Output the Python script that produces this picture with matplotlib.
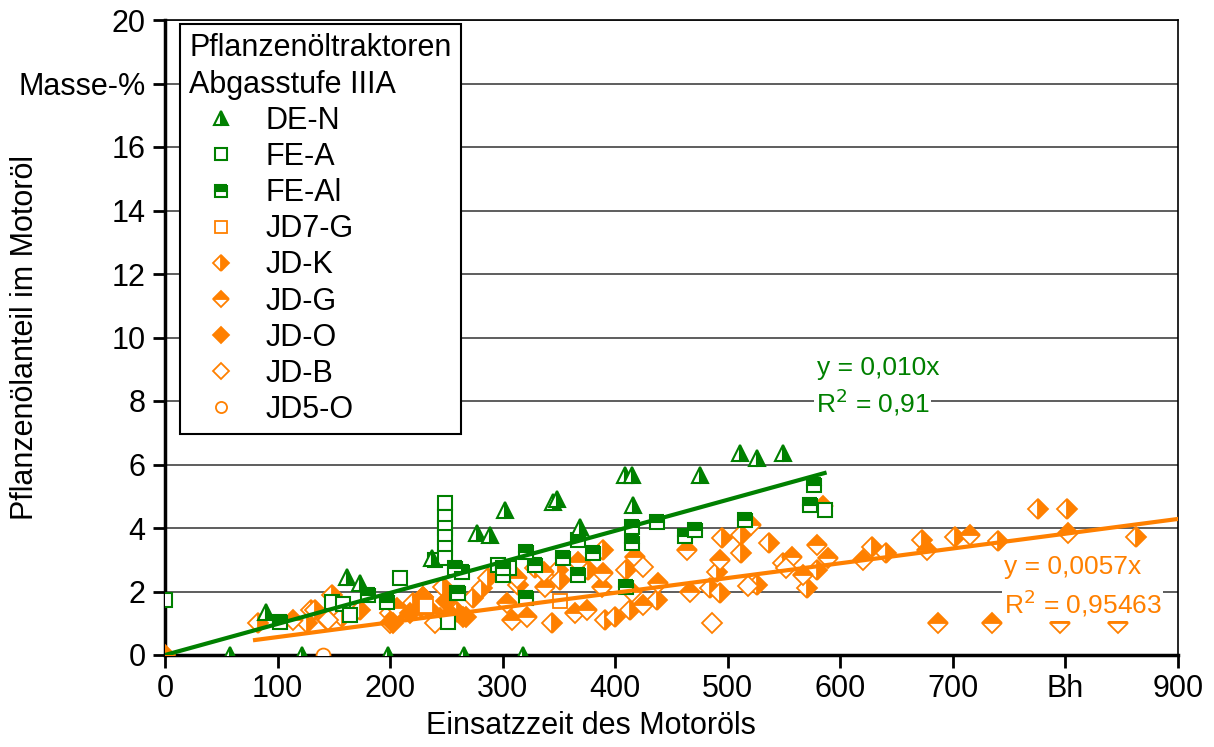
import matplotlib
matplotlib.use('Agg')
import matplotlib.pyplot as plt
import numpy as np

plt.rcParams['font.family'] = ['Liberation Sans', 'DejaVu Sans']

GREEN = '#008000'
ORANGE = '#ff8000'

# Pflanzenoelanteil (Masse-%) ueber Einsatzzeit (Bh)
de_n_x = [58, 90, 122, 162, 173, 198, 237, 266, 277, 289, 302, 318, 345, 348, 369, 409, 415, 416, 475, 511, 526, 549]
de_n_y = [0, 1.35, 0, 2.46, 2.27, 0, 3.05, 0, 3.84, 3.78, 4.57, 0, 4.82, 4.9, 4.03, 5.67, 5.67, 4.72, 5.67, 6.36, 6.2, 6.36]

fe_a_x = [0, 148, 158, 164, 209, 240, 249, 249, 249, 249, 249, 249, 251, 259, 296, 300, 306, 586]
fe_a_y = [1.73, 1.67, 1.6, 1.26, 2.43, 3.0, 4.8, 4.35, 4.0, 3.72, 3.37, 3.06, 1.04, 1.95, 2.83, 2.52, 2.74, 4.57]

fe_al_x = [102, 180, 197, 258, 260, 264, 300, 321, 321, 329, 354, 367, 367, 380, 410, 415, 415, 437, 462, 471, 515, 573, 577]
fe_al_y = [1.05, 1.89, 1.67, 2.75, 1.95, 2.6, 2.75, 3.24, 1.8, 2.83, 3.06, 3.62, 2.52, 3.21, 2.14, 4.03, 3.53, 4.19, 3.75, 3.94, 4.25, 4.72, 5.35]

jd7_g_x = [232, 351]
jd7_g_y = [1.55, 1.7]

jd_k_x = [83, 126, 130, 133, 144, 148, 155, 157, 173, 200, 204, 220, 229, 247, 259, 274, 282, 287, 314, 329,
          344, 349, 351, 376, 389, 391, 400, 410, 413, 437, 484, 490, 493, 495, 512, 512, 526, 537, 549, 570,
          579, 628, 641, 673, 702, 740, 776, 801, 863]
jd_k_y = [1.0, 1.0, 1.42, 1.42, 1.1, 1.89, 1.4, 1.2, 1.42, 1.32, 1.2, 1.64, 1.83, 2.14, 1.35, 1.8, 2.1, 2.43, 2.2, 2.74,
          1.0, 2.68, 2.36, 2.68, 3.3, 1.1, 1.2, 2.68, 1.42, 1.73, 2.1, 2.6, 1.95, 3.68, 3.2, 3.78, 2.2, 3.53, 2.9, 2.1,
          2.68, 3.4, 3.2, 3.62, 3.72, 3.6, 4.6, 4.6, 3.72]

jd_g_x = [114, 200, 206, 244, 304, 308, 313, 322, 337, 338, 364, 367, 375, 388, 389, 415, 418, 425, 438, 464,
          466, 493, 521, 557, 567, 579, 585, 589, 620, 677, 687, 715, 735, 795, 802, 847]
jd_g_y = [1.1, 1.0, 1.48, 1.17, 1.64, 1.1, 2.43, 1.2, 2.6, 2.14, 1.32, 2.93, 1.42, 2.14, 2.58, 1.98, 3.09, 1.57, 2.27, 3.3,
          1.98, 3.0, 4.1, 3.1, 2.52, 3.47, 4.7, 3.06, 3.0, 3.3, 1.0, 3.78, 1.0, 1.0, 3.84, 1.0]

jd_o_x = [0, 203, 218, 227, 229, 235, 250, 253, 265, 267]
jd_o_y = [0, 1.0, 1.32, 1.5, 1.83, 1.42, 1.7, 1.3, 1.2, 1.2]

jd_b_x = [145, 240, 425, 486, 518, 552]
jd_b_y = [1.1, 1.0, 2.77, 1.0, 2.17, 2.74]

jd5_o_x = [140]
jd5_o_y = [0]

# Trendlinien (wie im Original eingezeichnet)
green_slope = 0.00978
green_xmax = 586
orange_slope = 0.00465
orange_icpt = 0.10
orange_xmin = 80

fig = plt.figure(figsize=(12.14, 7.47), dpi=100)
ax = fig.add_axes([165/1214, 1-655/747, 1013/1214, 635/747])

ax.set_xlim(0, 900)
ax.set_ylim(0, 20)

ax.yaxis.grid(True, color='#505050', lw=1.3)
ax.set_axisbelow(True)

ms_d = 10.5
ax.plot(jd_k_x, jd_k_y, 'D', ls='none', ms=ms_d, fillstyle='right', mfc=ORANGE, mfcalt='white', mec=ORANGE, mew=1.3, label='JD-K', zorder=3)
ax.plot(jd_g_x, jd_g_y, 'D', ls='none', ms=ms_d, fillstyle='top', mfc=ORANGE, mfcalt='white', mec=ORANGE, mew=1.3, label='JD-G', zorder=3)
ax.plot(jd_o_x, jd_o_y, 'D', ls='none', ms=ms_d, mfc=ORANGE, mec=ORANGE, mew=1.3, label='JD-O', zorder=3)
ax.plot(jd_b_x, jd_b_y, 'D', ls='none', ms=ms_d, mfc='white', mec=ORANGE, mew=1.3, label='JD-B', zorder=3)
ax.plot(jd5_o_x, jd5_o_y, 'o', ls='none', ms=10, mfc='white', mec=ORANGE, mew=1.3, label='JD5-O', zorder=3)
ax.plot(jd7_g_x, jd7_g_y, 's', ls='none', ms=10, mfc='white', mec=ORANGE, mew=1.3, label='JD7-G', zorder=3)
ax.plot(fe_a_x, fe_a_y, 's', ls='none', ms=10, mfc='white', mec=GREEN, mew=1.5, label='FE-A', zorder=3)
ax.plot(fe_al_x, fe_al_y, 's', ls='none', ms=10, fillstyle='top', mfc=GREEN, mfcalt='white', mec=GREEN, mew=1.5, label='FE-Al', zorder=3)
ax.plot(de_n_x, de_n_y, '^', ls='none', ms=12, fillstyle='right', mfc=GREEN, mfcalt='white', mec=GREEN, mew=1.5, label='DE-N', zorder=3)

gx = np.array([0, green_xmax])
ax.plot(gx, green_slope * gx, color=GREEN, lw=3, zorder=4)
ox = np.array([orange_xmin, 900])
ax.plot(ox, orange_icpt + orange_slope * ox, color=ORANGE, lw=3, zorder=4)

ax.text(579, 9.05, 'y = 0,010x', color=GREEN, fontsize=19, va='center', ha='left')
ax.text(578, 7.97, 'R$^2$ = 0,91', color=GREEN, fontsize=19, va='center', ha='left',
        bbox=dict(facecolor='white', edgecolor='none', pad=1))
ax.text(745, 2.77, 'y = 0,0057x', color=ORANGE, fontsize=19, va='center', ha='left')
ax.text(745, 1.62, 'R$^2$ = 0,95463', color=ORANGE, fontsize=19, va='center', ha='left',
        bbox=dict(facecolor='white', edgecolor='none', pad=1))

ax.set_xticks(range(0, 1000, 100))
ax.set_xticklabels(['0', '100', '200', '300', '400', '500', '600', '700', 'Bh', '900'])
ax.set_yticks(range(0, 22, 2))
ax.set_yticklabels(['0', '2', '4', '6', '8', '10', '12', '14', '16', 'Masse-%', '20'])
ax.tick_params(axis='both', direction='out', length=9, width=2, labelsize=22, pad=5)

for s in ['left', 'bottom']:
    ax.spines[s].set_linewidth(2.5)
for s in ['top', 'right']:
    ax.spines[s].set_linewidth(1.2)

ax.set_xlabel('Einsatzzeit des Motoröls', fontsize=22)
ax.xaxis.set_label_coords(0.42, -0.088)
ax.set_ylabel('Pflanzenölanteil im Motoröl', fontsize=22)
ax.yaxis.set_label_coords(-0.123, 0.5)

handles, labels = ax.get_legend_handles_labels()
order = ['DE-N', 'FE-A', 'FE-Al', 'JD7-G', 'JD-K', 'JD-G', 'JD-O', 'JD-B', 'JD5-O']
hl = dict(zip(labels, handles))
leg = ax.legend([hl[k] for k in order], order, loc='upper left', bbox_to_anchor=(0.0148, 0.994),
                borderaxespad=0, fontsize=22, title='Pflanzenöltraktoren\nAbgasstufe IIIA',
                title_fontsize=22, alignment='left', fancybox=False, edgecolor='black',
                framealpha=1, markerscale=0.8, labelspacing=0.2, handletextpad=0.4,
                handlelength=2.1, borderpad=0.3)
leg.get_frame().set_linewidth(1.5)
leg.get_title().set_linespacing(1.3)

fig.savefig('out.png', dpi=100)
